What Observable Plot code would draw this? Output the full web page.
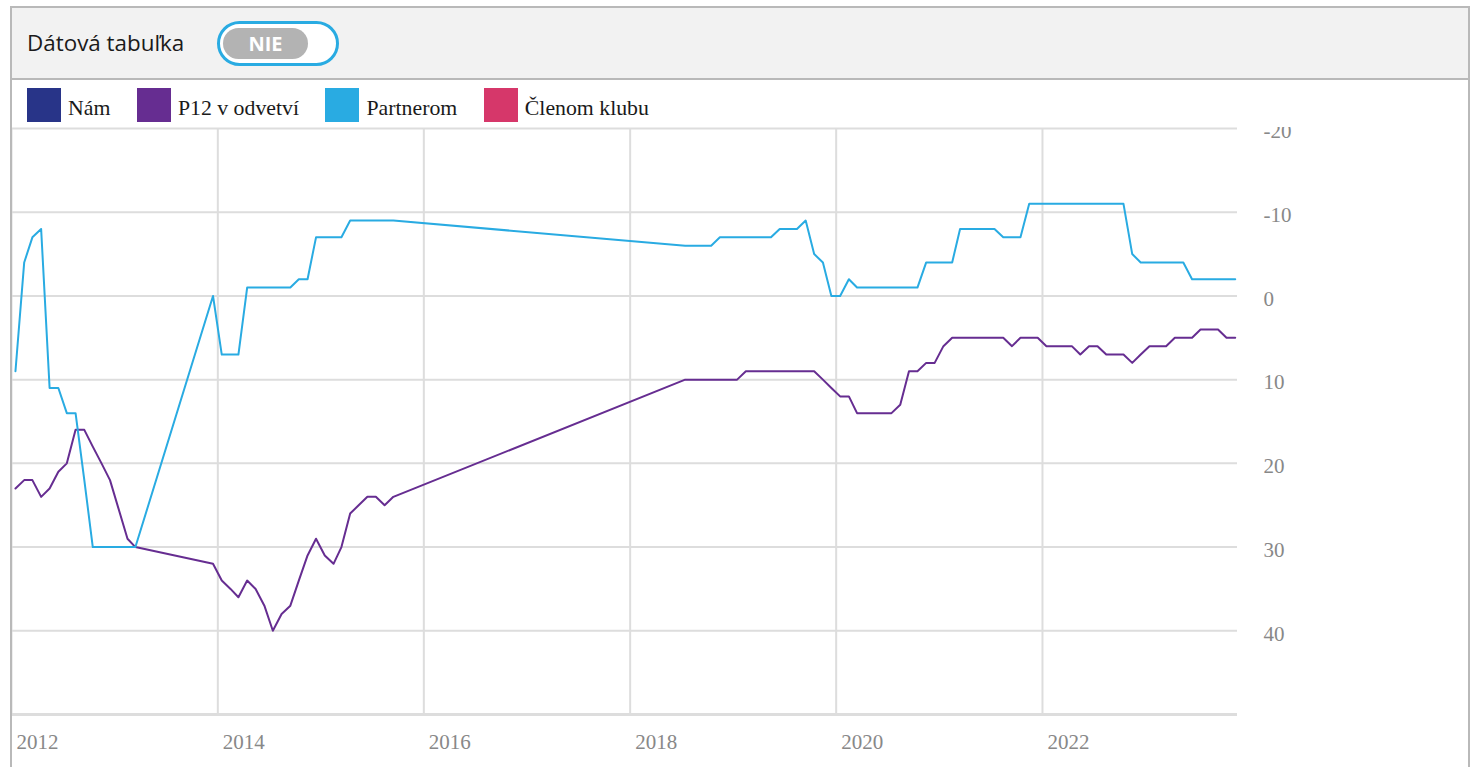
<!DOCTYPE html>
<html>
<head>
<meta charset="utf-8">
<script src="https://cdn.jsdelivr.net/npm/d3@7"></script>
<script src="https://cdn.jsdelivr.net/npm/@observablehq/plot@0.6"></script>
<style>
  html, body { margin: 0; padding: 0; background: #fff; width: 1476px; height: 767px; overflow: hidden; }
  #frame { position: absolute; left: 10px; top: 6px; width: 1460px; height: 800px; box-sizing: border-box; border: 2px solid #b9b9b9; z-index: 5; pointer-events: none; }
  #header { position: absolute; left: 12px; top: 8px; width: 1456px; height: 70px; background: #f2f2f2; border-bottom: 2px solid #b9b9b9; z-index: 3; }
  #header .title { position: absolute; left: 15px; top: 0; line-height: 70px; font-family: "Open Sans", sans-serif; font-size: 22.4px; color: #1a1a1a; }
  #toggle { position: absolute; left: 205px; top: 13px; width: 122px; height: 45px; box-sizing: border-box; border: 3px solid #29abe2; border-radius: 23px; background: #fff; }
  #toggle .pill { position: absolute; left: 3px; top: 4px; width: 85px; height: 31px; border-radius: 16px; background: #b3b3b3; color: #fff; font-family: "Open Sans", sans-serif; font-weight: 700; font-size: 20px; line-height: 31px; text-align: center; }
  #legend { position: absolute; left: 12px; top: 80px; width: 1456px; height: 47px; background: #fff; z-index: 3; display: flex; align-items: flex-start; padding-left: 15px; box-sizing: border-box; }
  .item { display: flex; align-items: center; margin-top: 8px; margin-right: 26.5px; }
  .sw { width: 34px; height: 34px; margin-right: 7px; }
  .lab { font-family: "Liberation Serif", serif; font-size: 21.8px; color: #1a1a1a; position: relative; top: 3px; }
  #chart { position: absolute; left: 0; top: 80px; z-index: 1; }
</style>
</head>
<body>
<div id="frame"></div>
<div id="header"><span class="title">Dátová tabuľka</span><div id="toggle"><div class="pill">NIE</div></div></div>
<div id="legend"></div>
<div id="chart"></div>
<script>
// Series names and colours
const seriesNames = ["Nám", "P12 v odvetví", "Partnerom", "Členom klubu"];
const seriesColors = ["#283488", "#662d91", "#29abe2", "#d6376a"];

// P12 v odvetví (monthly)
const p12Months = [
  "2012-01","2012-02","2012-03","2012-04","2012-05","2012-06","2012-07","2012-08","2012-09","2012-10","2012-11","2012-12",
  "2013-02","2013-03","2013-12",
  "2014-01","2014-02","2014-03","2014-04","2014-05","2014-06","2014-07","2014-08","2014-09","2014-10","2014-11","2014-12",
  "2015-01","2015-02","2015-03","2015-04","2015-05","2015-06","2015-07","2015-08","2015-09",
  "2018-07","2018-08","2018-09","2018-10","2018-11","2018-12",
  "2019-01","2019-02","2019-03","2019-04","2019-05","2019-06","2019-07","2019-08","2019-09","2019-10","2019-11","2019-12",
  "2020-01","2020-02","2020-03","2020-04","2020-05","2020-06","2020-07","2020-08","2020-09","2020-10","2020-11","2020-12",
  "2021-01","2021-02","2021-03","2021-04","2021-05","2021-06","2021-07","2021-08","2021-09","2021-10","2021-11","2021-12",
  "2022-01","2022-02","2022-03","2022-04","2022-05","2022-06","2022-07","2022-08","2022-09","2022-10","2022-11","2022-12",
  "2023-01","2023-02","2023-03","2023-04","2023-05","2023-06","2023-07","2023-08","2023-09","2023-10","2023-11"
];
const p12Values = [
  23,22,22,24,23,21,20,16,16,18,20,22,
  29,30,32,
  34,35,36,34,35,37,40,38,37,34,31,29,
  31,32,30,26,25,24,24,25,24,
  10,10,10,10,10,10,
  10,9,9,9,9,9,9,9,9,9,10,11,
  12,12,14,14,14,14,14,13,9,9,8,8,
  6,5,5,5,5,5,5,5,6,5,5,5,
  6,6,6,6,7,6,6,7,7,7,8,7,
  6,6,6,5,5,5,4,4,4,5,5
];

// Partnerom (monthly)
const partnerMonths = [
  "2012-01","2012-02","2012-03","2012-04","2012-05","2012-06","2012-07","2012-08","2012-09","2012-10","2012-11","2012-12",
  "2013-01","2013-02","2013-03","2013-12",
  "2014-01","2014-02","2014-03","2014-04","2014-05","2014-06","2014-07","2014-08","2014-09","2014-10","2014-11","2014-12",
  "2015-01","2015-02","2015-03","2015-04","2015-05","2015-06","2015-07","2015-08","2015-09",
  "2018-07","2018-08","2018-09","2018-10","2018-11","2018-12",
  "2019-01","2019-02","2019-03","2019-04","2019-05","2019-06","2019-07","2019-08","2019-09","2019-10","2019-11","2019-12",
  "2020-01","2020-02","2020-03","2020-04","2020-05","2020-06","2020-07","2020-08","2020-09","2020-10","2020-11","2020-12",
  "2021-01","2021-02","2021-03","2021-04","2021-05","2021-06","2021-07","2021-08","2021-09","2021-10","2021-11","2021-12",
  "2022-01","2022-02","2022-03","2022-04","2022-05","2022-06","2022-07","2022-08","2022-09","2022-10","2022-11","2022-12",
  "2023-01","2023-02","2023-03","2023-04","2023-05","2023-06","2023-07","2023-08","2023-09","2023-10","2023-11"
];
const partnerValues = [
  9,-4,-7,-8,11,11,14,14,22,30,30,30,
  30,30,30,0,
  7,7,7,-1,-1,-1,-1,-1,-1,-2,-2,-7,
  -7,-7,-7,-9,-9,-9,-9,-9,-9,
  -6,-6,-6,-6,-7,-7,
  -7,-7,-7,-7,-7,-8,-8,-8,-9,-5,-4,0,
  0,-2,-1,-1,-1,-1,-1,-1,-1,-1,-4,-4,
  -4,-4,-8,-8,-8,-8,-8,-7,-7,-7,-11,-11,
  -11,-11,-11,-11,-11,-11,-11,-11,-11,-11,-5,-4,
  -4,-4,-4,-4,-4,-2,-2,-2,-2,-2,-2
];

// Axis ticks
const yTicks = [-20, -10, 0, 10, 20, 30, 40];
const xTickYears = [2012, 2014, 2016, 2018, 2020, 2022];

// Legend
const legend = document.getElementById("legend");
seriesNames.forEach((n, i) => {
  const it = document.createElement("div");
  it.className = "item";
  it.innerHTML = `<div class="sw" style="background:${seriesColors[i]}"></div><span class="lab">${n}</span>`;
  legend.appendChild(it);
});

const toDate = m => new Date(m + "-15T00:00:00Z");
const rows = [
  ...p12Months.map((m, i) => ({date: toDate(m), value: p12Values[i], series: seriesNames[1]})),
  ...partnerMonths.map((m, i) => ({date: toDate(m), value: partnerValues[i], series: seriesNames[2]}))
];
const xTicks = xTickYears.map(y => new Date(Date.UTC(y, 0, 1)));
const xDomain = [new Date(Date.UTC(2012, 0, 1)), new Date(Date.UTC(2023, 10, 23))];

const chart = Plot.plot({
  width: 1476,
  height: 687,
  marginLeft: 11,
  marginRight: 239,
  marginTop: 48,
  marginBottom: 53,
  style: {background: "transparent", overflow: "visible"},
  x: {type: "utc", domain: xDomain, axis: null},
  y: {domain: [-20, 50], reverse: true, axis: null},
  color: {domain: seriesNames, range: seriesColors},
  marks: [
    Plot.ruleY(yTicks, {stroke: "#dddddd", strokeWidth: 2}),
    Plot.ruleX(xTicks, {y1: -20, y2: 50, stroke: "#dddddd", strokeWidth: 2}),
    Plot.ruleY([50], {stroke: "#dddddd", strokeWidth: 3}),
    Plot.line(rows, {x: "date", y: "value", z: "series", stroke: "series", strokeWidth: 2, curve: "linear"}),
    Plot.text(yTicks, {y: d => d, text: d => String(d), frameAnchor: "right", textAnchor: "start", dx: 26, dy: 3,
      fill: "#888", fontSize: 21, fontFamily: "Liberation Serif"}),
    Plot.text(xTicks, {x: d => d, text: d => String(d.getUTCFullYear()), frameAnchor: "bottom", textAnchor: "start", dx: 5, dy: 34,
      fill: "#888", fontSize: 21, fontFamily: "Liberation Serif"})
  ]
});
document.getElementById("chart").appendChild(chart);
</script>
</body>
</html>
